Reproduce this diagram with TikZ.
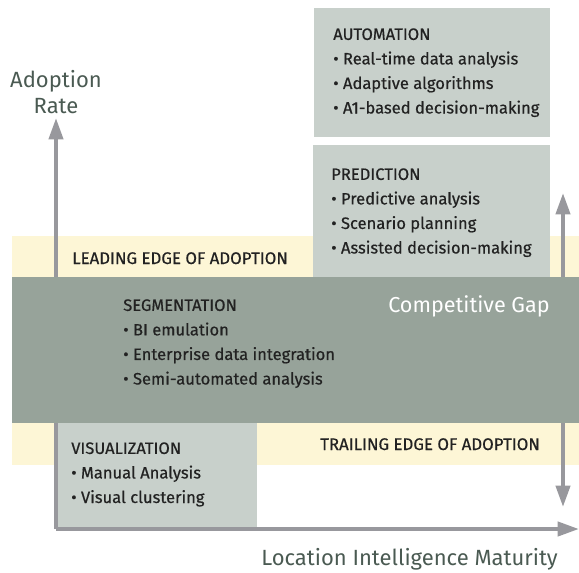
\documentclass[tikz,border=0pt]{standalone}
\usepackage{fontspec}
\setmainfont{Fira Sans}
\newfontfamily\medfont{Fira Sans}[FakeBold=0.5]
\usetikzlibrary{positioning,arrows.meta}
\definecolor{gapgreen}{HTML}{97A39A}
\definecolor{panelgrey}{HTML}{C8D0CB}
\definecolor{edgeyellow}{HTML}{FDF6D6}
\definecolor{axisgrey}{HTML}{98989D}
\definecolor{axistext}{HTML}{4A5A52}
\definecolor{bodytext}{HTML}{222222}
\tikzset{
  band/.style={fill=edgeyellow},
  gap/.style={fill=gapgreen},
  panel/.style={fill=panelgrey},
  stage/.style={anchor=base west, align=left, inner sep=0pt, text=bodytext, font=\medfont\fontsize{12.4}{18.4}\selectfont},
  edgelabel/.style={anchor=base west, inner sep=0pt, text=bodytext, font=\medfont\fontsize{12.6}{14}\selectfont},
  axislabel/.style={anchor=base, align=center, inner sep=0pt, text=axistext, font=\fontsize{16.5}{19.5}\selectfont},
  axis/.style={draw=axisgrey, line width=3pt, -{Triangle[length=16pt,width=10.5pt]}}
}
\begin{document}
\begin{tikzpicture}[x=0.75pt, y=-0.75pt]
  \useasboundingbox (0,0) rectangle (579,572);

  % adoption bands
  \fill[band] (12,236) rectangle (579,277);
  \fill[band] (12,423) rectangle (579,465);
  \fill[panel] (56,423) rectangle (257,529);

  % axes
  \coordinate (origin) at (56,529);
  \coordinate (ytip) at (56,118);
  \coordinate (xtip) at (579,529);
  \draw[axis] (origin) -- (ytip);
  \draw[axis] (origin) -- (xtip);

  % competitive gap
  \fill[gap] (12,277) rectangle (579,423);
  \fill[panel] (314,8) rectangle (550,137);
  \fill[panel] (313,145) rectangle (550,277);

  \coordinate (gaptop) at (563,277);
  \coordinate (gapbot) at (563,423);
  \coordinate (uptip) at (563,193);
  \coordinate (downtip) at (563,507);
  \draw[axis] (gaptop) -- (uptip);
  \draw[axis] (gapbot) -- (downtip);

  % stage lists, placed by the baseline of their last line
  \node[stage] (auto) at (333,113.5) {AUTOMATION\\• Real-time data analysis\\• Adaptive algorithms\\• A1-based decision-making};
  \node[stage] (pred) at (331,253.5) {PREDICTION\\• Predictive analysis\\• Scenario planning\\• Assisted decision-making};
  \node[stage] (seg) at (123,384.5) {SEGMENTATION\\• BI emulation\\• Enterprise data integration\\• Semi-automated analysis};
  \node[stage] (vis) at (71,503) {VISUALIZATION\\• Manual Analysis\\• Visual clustering};

  \node[edgelabel] (lead) at (72,264) {LEADING EDGE OF ADOPTION};
  \node[edgelabel] (trail) at (320,450) {TRAILING EDGE OF ADOPTION};
  \node[anchor=base west, inner sep=0pt, text=white, font=\fontsize{16.2}{18}\selectfont] (gaplabel) at (388,312) {Competitive Gap};

  \node[axislabel] (yname) at (56,113) {Adoption\\Rate};
  \node[axislabel, anchor=base east] (xname) at (558,565) {Location Intelligence Maturity};
\end{tikzpicture}
\end{document}
